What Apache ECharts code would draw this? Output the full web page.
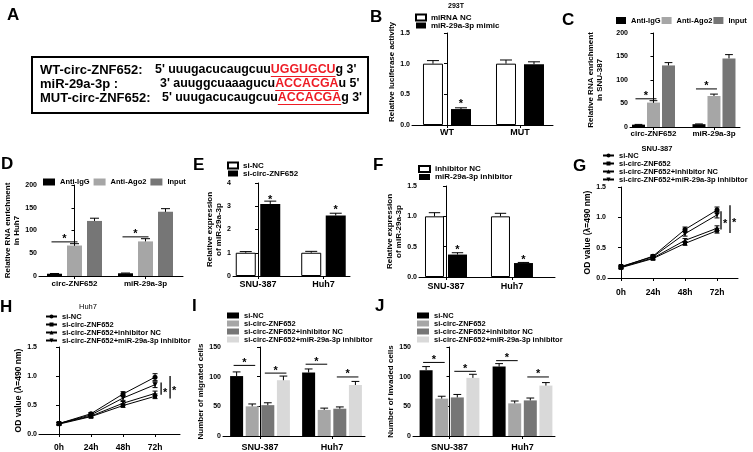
<!DOCTYPE html>
<html>
<head>
<meta charset="utf-8">
<script src="https://cdn.jsdelivr.net/npm/echarts@6/dist/echarts.min.js"></script>
<style>
html, body { margin: 0; padding: 0; background: #fff; }
#main { width: 753px; height: 452px; }
</style>
</head>
<body>
<div id="main"></div>
<script>
// ---- data ----
// A: sequences
var seqLabels = ['WT-circ-ZNF652:', 'miR-29a-3p :', 'MUT-circ-ZNF652:']
var seqPre = ["5' uuugacucaugcuu", "3' auuggcuaaagucu", "5' uuugacucaugcuu"]
var seqSite = ['UGGUGCU', 'ACCACGA', 'ACCACGA']
var seqPost = ["g 3'", "u 5'", "g 3'"]

// B: luciferase, 293T
var bCats = ['WT', 'MUT']
var bNC = [1.0, 1.0], bNCErr = [0.05, 0.06]
var bMimic = [0.26, 0.99], bMimicErr = [0.02, 0.04]

// C / D: RIP
var ripCats = ['circ-ZNF652', 'miR-29a-3p']
var cIgG = [5, 6], cIgGErr = [0.5, 0.5]
var cAgo2 = [52, 66], cAgo2Err = [4, 4]
var cInput = [131, 146], cInputErr = [6, 8]
var dIgG = [5, 6], dIgGErr = [0.5, 0.5]
var dAgo2 = [67, 76], dAgo2Err = [4, 6]
var dInput = [121, 141], dInputErr = [6, 7]

// E / F: qPCR
var cellCats = ['SNU-387', 'Huh7']
var eNC = [1.0, 1.0], eNCErr = [0.05, 0.06]
var eSi = [3.1, 2.6], eSiErr = [0.12, 0.1]
var fNC = [1.0, 1.0], fNCErr = [0.06, 0.05]
var fInh = [0.37, 0.23], fInhErr = [0.03, 0.01]

// G / H: CCK-8
var times = ['0h', '24h', '48h', '72h']
var gNC = [0.18, 0.36, 0.80, 1.12], gNCErr = [0.02, 0.02, 0.04, 0.05]
var gSi = [0.17, 0.32, 0.57, 0.78], gSiErr = [0.02, 0.02, 0.03, 0.04]
var gInhNC = [0.18, 0.33, 0.62, 0.82], gInhNCErr = [0.02, 0.02, 0.03, 0.04]
var gInh = [0.19, 0.35, 0.73, 1.04], gInhErr = [0.02, 0.02, 0.04, 0.05]
var hNC = [0.18, 0.35, 0.69, 0.98], hNCErr = [0.02, 0.02, 0.04, 0.06]
var hSi = [0.17, 0.30, 0.49, 0.65], hSiErr = [0.02, 0.02, 0.03, 0.04]
var hInhNC = [0.18, 0.31, 0.53, 0.70], hInhNCErr = [0.02, 0.02, 0.03, 0.04]
var hInh = [0.18, 0.33, 0.62, 0.85], hInhErr = [0.02, 0.02, 0.04, 0.05]

// I / J: transwell
var iNC = [101, 107], iNCErr = [7, 6]
var iSi = [50, 44], iSiErr = [4, 3]
var iInhNC = [52, 46], iInhNCErr = [4, 3]
var iInh = [94, 86], iInhErr = [7, 6]
var jNC = [111, 117], jNCErr = [6, 5]
var jSi = [63, 55], jSiErr = [4, 4]
var jInhNC = [65, 60], jInhNCErr = [5, 4]
var jInh = [98, 85], jInhErr = [6, 5]

var groupNames4 = ['si-NC', 'si-circ-ZNF652', 'si-circ-ZNF652+inhibitor NC', 'si-circ-ZNF652+miR-29a-3p inhibitor']
var grays = ['#000000', '#a6a6a6', '#767676', '#d9d9d9']

// ---- chart ----
var FF = '"Liberation Sans", Arial, Helvetica, sans-serif'
var myChart = echarts.init(document.getElementById('main'), null, { renderer: 'canvas' })
var option = {
  animation: false,
  backgroundColor: '#fff',
  textStyle: { fontFamily: FF },
  grid: [], xAxis: [], yAxis: [], legend: [], series: [], graphic: []
}

function fix1(v) { return v.toFixed(1) }
function stripKey(nm) { return nm.split('|')[1] }

function panel(p) {
  var g = option.grid.length
  option.grid.push({ left: p.x0, top: p.y1, width: p.x1 - p.x0, height: p.y0 - p.y1 })
  var ticks = p.cats.map(function (c, i) { return i })
  option.xAxis.push({
    type: 'value', gridIndex: g, min: p.xMin, max: p.xMax,
    splitLine: { show: false },
    axisLine: { show: true, onZero: false, lineStyle: { color: '#000', width: 1 } },
    axisTick: { show: true, customValues: ticks, length: 3, lineStyle: { color: '#000' } },
    axisLabel: {
      customValues: ticks, formatter: function (v) { return p.cats[Math.round(v)] },
      fontSize: p.catSize, fontWeight: 'bold', color: '#000', margin: p.catMargin, fontFamily: FF
    }
  })
  option.yAxis.push({
    type: 'value', gridIndex: g, min: 0, max: p.yMax, interval: p.yStep,
    splitLine: { show: false },
    axisLine: { show: true, lineStyle: { color: '#000', width: 1 } },
    axisTick: { show: true, length: 3, lineStyle: { color: '#000' } },
    axisLabel: { fontSize: 7, fontWeight: 'bold', color: '#000', margin: 2, fontFamily: FF, formatter: p.yFmt },
    name: p.yName, nameLocation: 'middle', nameGap: p.nameGap,
    nameTextStyle: {
      fontSize: p.nameSize || 8, fontWeight: 'bold', color: '#000', lineHeight: p.nameLH || 9,
      fontFamily: FF, padding: p.namePad || 0
    }
  })
  return g
}

// error bars (upper only for bars, both ways for points)
function errBars(g, vals, errs, idx, n, step, cap, both) {
  option.series.push({
    type: 'custom', xAxisIndex: g, yAxisIndex: g, silent: true, z: 5,
    data: vals.map(function (v, i) { return [i, v, errs[i]] }),
    renderItem: function (params, api) {
      var x = api.value(0), y = api.value(1), e = api.value(2)
      var off = (idx - (n - 1) / 2) * step
      var p = api.coord([x, y]), pt = api.coord([x, y + e]), pb = api.coord([x, y - e])
      var cx = p[0] + off
      var st = { stroke: '#000', lineWidth: 1 }
      var kids = [
        { type: 'line', shape: { x1: cx, y1: both ? pb[1] : p[1], x2: cx, y2: pt[1] }, style: st },
        { type: 'line', shape: { x1: cx - cap, y1: pt[1], x2: cx + cap, y2: pt[1] }, style: st }
      ]
      if (both) kids.push({ type: 'line', shape: { x1: cx - cap, y1: pb[1], x2: cx + cap, y2: pb[1] }, style: st })
      return { type: 'group', children: kids }
    }
  })
}

// significance: [cat, barA, barB, y] ; barA == barB means a lone star
function sigBars(g, n, step, marks) {
  option.series.push({
    type: 'custom', xAxisIndex: g, yAxisIndex: g, silent: true, z: 6, data: marks,
    renderItem: function (params, api) {
      var a = api.value(1), b = api.value(2)
      var c = api.coord([api.value(0), api.value(3)])
      var xa = c[0] + (a - (n - 1) / 2) * step
      var xb = c[0] + (b - (n - 1) / 2) * step
      var kids = []
      if (a !== b) {
        kids.push({ type: 'line', shape: { x1: xa - 3, y1: c[1], x2: xb + 3, y2: c[1] }, style: { stroke: '#000', lineWidth: 1 } })
      }
      kids.push({
        type: 'text',
        style: {
          text: '*', x: (xa + xb) / 2, y: a !== b ? c[1] + 3 : c[1] + 5,
          align: 'center', textAlign: 'center', verticalAlign: 'bottom', textVerticalAlign: 'bottom',
          font: 'bold 11px ' + FF, fill: '#000'
        }
      })
      return { type: 'group', children: kids }
    }
  })
}

// vertical significance lines for growth curves: [x, y1, y2]
function sigLines(g, marks) {
  option.series.push({
    type: 'custom', xAxisIndex: g, yAxisIndex: g, silent: true, z: 6, data: marks,
    renderItem: function (params, api) {
      var p1 = api.coord([api.value(0), api.value(1)])
      var p2 = api.coord([api.value(0), api.value(2)])
      return {
        type: 'group', children: [
          { type: 'line', shape: { x1: p1[0], y1: p1[1], x2: p2[0], y2: p2[1] }, style: { stroke: '#000', lineWidth: 1.3 } },
          {
            type: 'text', style: {
              text: '*', x: p1[0] + 2, y: (p1[1] + p2[1]) / 2 + 4,
              align: 'left', textAlign: 'left', verticalAlign: 'middle', textVerticalAlign: 'middle',
              font: 'bold 11px ' + FF, fill: '#000'
            }
          }
        ]
      }
    }
  })
}

function finishLegend(key, groups, legend) {
  legend.data = groups.map(function (s) { return key + '|' + s.name })
  legend.formatter = stripKey
  legend.padding = 0
  legend.textStyle = Object.assign({ color: '#000', fontWeight: 'bold', fontFamily: FF }, legend.textStyle)
  option.legend.push(legend)
}

function barPanel(key, p, groups, legend) {
  var g = panel(p)
  var n = groups.length
  var step = p.bw * (1 + p.gap)
  groups.forEach(function (s, i) {
    option.series.push({
      type: 'bar', name: key + '|' + s.name, xAxisIndex: g, yAxisIndex: g,
      barWidth: p.bw, barGap: (p.gap * 100) + '%',
      data: s.vals.map(function (v, k) { return [k, v] }),
      itemStyle: { color: s.color, borderColor: '#000', borderWidth: s.white ? 1 : 0 },
      z: 2
    })
    errBars(g, s.vals, s.errs, i, n, step, p.bw * 0.3, false)
  })
  legend.icon = 'rect'
  finishLegend(key, groups, legend)
  if (p.sig) sigBars(g, n, step, p.sig)
  return g
}

function linePanel(key, p, groups, legend) {
  var g = panel(p)
  var syms = [['circle', 0, 5], ['rect', 0, 4], ['triangle', 0, 5], ['triangle', 180, 5]]
  groups.forEach(function (s, i) {
    option.series.push({
      type: 'line', name: key + '|' + s.name, xAxisIndex: g, yAxisIndex: g,
      data: s.vals.map(function (v, k) { return [k, v] }),
      symbol: syms[i][0], symbolRotate: syms[i][1], symbolSize: syms[i][2], showSymbol: true,
      lineStyle: { color: '#000', width: 1 }, itemStyle: { color: '#000' }, z: 3
    })
    errBars(g, s.vals, s.errs, 0, 1, 0, 2.5, true)
  })
  finishLegend(key, groups, legend)
  if (p.sig) sigLines(g, p.sig)
  return g
}

// B
barPanel('B', {
  x0: 412, x1: 553, y1: 33, y0: 125, xMin: -0.479, xMax: 1.452, cats: bCats, catSize: 9, catMargin: 3,
  yMax: 1.5, yStep: 0.5, yFmt: fix1, yName: 'Relative luciferase activity', nameGap: 7, namePad: [0, 0, 0, 14],
  bw: 20, gap: 0.4, sig: [[0, 1, 1, 0.33]]
}, [
  { name: 'miRNA NC', vals: bNC, errs: bNCErr, color: '#fff', white: true },
  { name: 'miR-29a-3p mimic', vals: bMimic, errs: bMimicErr, color: '#000' }
], { left: 415, top: 13.5, orient: 'vertical', itemWidth: 10, itemHeight: 6, itemGap: 0, textStyle: { fontSize: 8, lineHeight: 7 } })

// C
barPanel('C', {
  x0: 630, x1: 740, y1: 33, y0: 127, xMin: -0.388, xMax: 1.43, cats: ripCats, catSize: 8, catMargin: 3,
  yMax: 200, yStep: 50, yName: 'Relative RNA enrichment\nin SNU-387', nameGap: 26,
  bw: 13, gap: 0.154, sig: [[0, 0, 1, 60], [1, 0, 1, 81]]
}, [
  { name: 'Anti-IgG', vals: cIgG, errs: cIgGErr, color: grays[0] },
  { name: 'Anti-Ago2', vals: cAgo2, errs: cAgo2Err, color: grays[1] },
  { name: 'Input', vals: cInput, errs: cInputErr, color: grays[2] }
], { left: 616, top: 16.5, width: 137, orient: 'horizontal', itemWidth: 10, itemHeight: 7, itemGap: 1, textStyle: { fontSize: 7.5, lineHeight: 8 } })

// D
barPanel('D', {
  x0: 39, x1: 183, y1: 185, y0: 276, xMin: -0.5, xMax: 1.528, cats: ripCats, catSize: 8, catMargin: 4,
  yMax: 200, yStep: 50, yName: 'Relative RNA enrichment\nin Huh7', nameGap: 16,
  bw: 15, gap: 0.333, sig: [[0, 0, 1, 75], [1, 0, 1, 86]]
}, [
  { name: 'Anti-IgG', vals: dIgG, errs: dIgGErr, color: grays[0] },
  { name: 'Anti-Ago2', vals: dAgo2, errs: dAgo2Err, color: grays[1] },
  { name: 'Input', vals: dInput, errs: dInputErr, color: grays[2] }
], { left: 43, top: 178, orient: 'horizontal', itemWidth: 12, itemHeight: 7, itemGap: 4, textStyle: { fontSize: 7.5, lineHeight: 8 } })

// E
barPanel('E', {
  x0: 233, x1: 350, y1: 183, y0: 276, xMin: -0.382, xMax: 1.405, cats: cellCats, catSize: 9, catMargin: 4,
  yMax: 4, yStep: 1, yName: 'Relative expression\nof miR-29a-3p', nameGap: 9,
  bw: 20, gap: 0.225, sig: [[0, 1, 1, 3.27], [1, 1, 1, 2.8]]
}, [
  { name: 'si-NC', vals: eNC, errs: eNCErr, color: '#fff', white: true },
  { name: 'si-circ-ZNF652', vals: eSi, errs: eSiErr, color: '#000' }
], { left: 227, top: 161.5, orient: 'vertical', itemWidth: 10, itemHeight: 6, itemGap: 0, textStyle: { fontSize: 8, lineHeight: 7.5 } })

// F
barPanel('F', {
  x0: 419, x1: 555, y1: 186, y0: 277, xMin: -0.409, xMax: 1.652, cats: cellCats, catSize: 9, catMargin: 5,
  yMax: 1.5, yStep: 0.5, yFmt: fix1, yName: 'Relative expression\nof miR-29a-3p', nameGap: 11,
  bw: 19, gap: 0.21, sig: [[0, 1, 1, 0.44], [1, 1, 1, 0.28]]
}, [
  { name: 'inhibitor NC', vals: fNC, errs: fNCErr, color: '#fff', white: true },
  { name: 'miR-29a-3p inhibitor', vals: fInh, errs: fInhErr, color: '#000' }
], { left: 418, top: 165, orient: 'vertical', itemWidth: 11, itemHeight: 6, itemGap: 0, textStyle: { fontSize: 8, lineHeight: 7 } })

// G
linePanel('G', {
  x0: 608, x1: 738, y1: 187, y0: 278, xMin: -0.406, xMax: 3.656, cats: times, catSize: 8.5, catMargin: 10,
  yMax: 1.5, yStep: 0.5, yFmt: fix1, yName: 'OD value (\u03bb=490 nm)', nameGap: 10, nameSize: 8.5,
  sig: [[3.125, 0.80, 1.10], [3.406, 0.74, 1.20]]
}, [
  { name: groupNames4[0], vals: gNC, errs: gNCErr },
  { name: groupNames4[1], vals: gSi, errs: gSiErr },
  { name: groupNames4[2], vals: gInhNC, errs: gInhNCErr },
  { name: groupNames4[3], vals: gInh, errs: gInhErr }
], { left: 602, top: 151.5, orient: 'vertical', itemWidth: 11, itemHeight: 5, itemGap: 0, textStyle: { fontSize: 7.5, lineHeight: 7.3 } })

// H
linePanel('H', {
  x0: 39, x1: 180, y1: 347, y0: 438, xMin: -0.625, xMax: 3.78, cats: times, catSize: 8.5, catMargin: 9,
  yMax: 1.5, yStep: 0.5, yFmt: fix1, yName: 'OD value (\u03bb=490 nm)', nameGap: 12, nameSize: 8.5,
  sig: [[3.19, 0.675, 0.89], [3.47, 0.61, 1.0]]
}, [
  { name: groupNames4[0], vals: hNC, errs: hNCErr },
  { name: groupNames4[1], vals: hSi, errs: hSiErr },
  { name: groupNames4[2], vals: hInhNC, errs: hInhNCErr },
  { name: groupNames4[3], vals: hInh, errs: hInhErr }
], { left: 45, top: 312.5, orient: 'vertical', itemWidth: 11, itemHeight: 5, itemGap: 0, textStyle: { fontSize: 7.5, lineHeight: 7 } })

// I
barPanel('I', {
  x0: 223, x1: 365, y1: 347, y0: 439, xMin: -0.514, xMax: 1.458, cats: cellCats, catSize: 9, catMargin: 7,
  yMax: 150, yStep: 50, yName: 'Number of migrated cells', nameGap: 17,
  bw: 13, gap: 0.2, sig: [[0, 0, 1, 119], [0, 2, 3, 106], [1, 0, 1, 121], [1, 2, 3, 99.5]]
}, [
  { name: groupNames4[0], vals: iNC, errs: iNCErr, color: grays[0] },
  { name: groupNames4[1], vals: iSi, errs: iSiErr, color: grays[1] },
  { name: groupNames4[2], vals: iInhNC, errs: iInhNCErr, color: grays[2] },
  { name: groupNames4[3], vals: iInh, errs: iInhErr, color: grays[3] }
], { left: 227, top: 311.5, orient: 'vertical', itemWidth: 12, itemHeight: 6, itemGap: 0, textStyle: { fontSize: 7.5, lineHeight: 7.3 } })

// J
barPanel('J', {
  x0: 413, x1: 555, y1: 347, y0: 439, xMin: -0.5, xMax: 1.445, cats: cellCats, catSize: 9, catMargin: 7,
  yMax: 150, yStep: 50, yName: 'Number of invaded cells', nameGap: 16,
  bw: 13, gap: 0.2, sig: [[0, 0, 1, 124], [0, 2, 3, 109], [1, 0, 1, 127], [1, 2, 3, 99.5]]
}, [
  { name: groupNames4[0], vals: jNC, errs: jNCErr, color: grays[0] },
  { name: groupNames4[1], vals: jSi, errs: jSiErr, color: grays[1] },
  { name: groupNames4[2], vals: jInhNC, errs: jInhNCErr, color: grays[2] },
  { name: groupNames4[3], vals: jInh, errs: jInhErr, color: grays[3] }
], { left: 417, top: 311.5, orient: 'vertical', itemWidth: 12, itemHeight: 6, itemGap: 0, textStyle: { fontSize: 7.5, lineHeight: 7.3 } })

// ---- text, letters, panel A ----
function txt(x, y, s, font, extra) {
  option.graphic.push({
    type: 'text', x: x, y: y, silent: true,
    style: Object.assign({
      text: s, font: font, fill: '#000',
      align: 'left', textAlign: 'left', verticalAlign: 'middle', textVerticalAlign: 'middle'
    }, extra || {})
  })
}

var letterFont = 'bold 17px ' + FF
var letters = [['A', 7, 15], ['B', 370, 17], ['C', 562, 20], ['D', 1, 164], ['E', 193, 165],
  ['F', 373, 165], ['G', 573, 166], ['H', 0, 307], ['I', 192, 306], ['J', 375, 306]]
letters.forEach(function (l) { txt(l[1], l[2], l[0], letterFont) })

var centre = { align: 'center', textAlign: 'center' }
txt(456, 6, '293T', 'bold 7px ' + FF, centre)
txt(657, 149, 'SNU-387', 'bold 7.5px ' + FF, centre)
txt(88, 307, 'Huh7', '7.5px ' + FF, centre)

option.graphic.push({
  type: 'rect', silent: true, shape: { x: 32, y: 57, width: 336, height: 56 },
  style: { fill: 'none', stroke: '#000', lineWidth: 2 }
})
var labelFont = 'bold 13px ' + FF
var seqFont = 'bold 12.4px ' + FF
var ctx = document.createElement('canvas').getContext('2d')
ctx.font = seqFont
var rowY = [70, 84, 98]
var rowX = [155, 160, 162]
seqLabels.forEach(function (lab, r) {
  var y = rowY[r]
  txt(40, y, lab, labelFont)
  var x = rowX[r]
  txt(x, y, seqPre[r], seqFont)
  x += ctx.measureText(seqPre[r]).width
  var w = ctx.measureText(seqSite[r]).width
  txt(x, y, seqSite[r], seqFont, { fill: '#ee1c25' })
  option.graphic.push({
    type: 'line', silent: true, shape: { x1: x, y1: y + 6.5, x2: x + w, y2: y + 6.5 },
    style: { stroke: '#ee1c25', lineWidth: 1 }
  })
  txt(x + w, y, seqPost[r], seqFont)
})

myChart.setOption(option)
</script>
</body>
</html>
